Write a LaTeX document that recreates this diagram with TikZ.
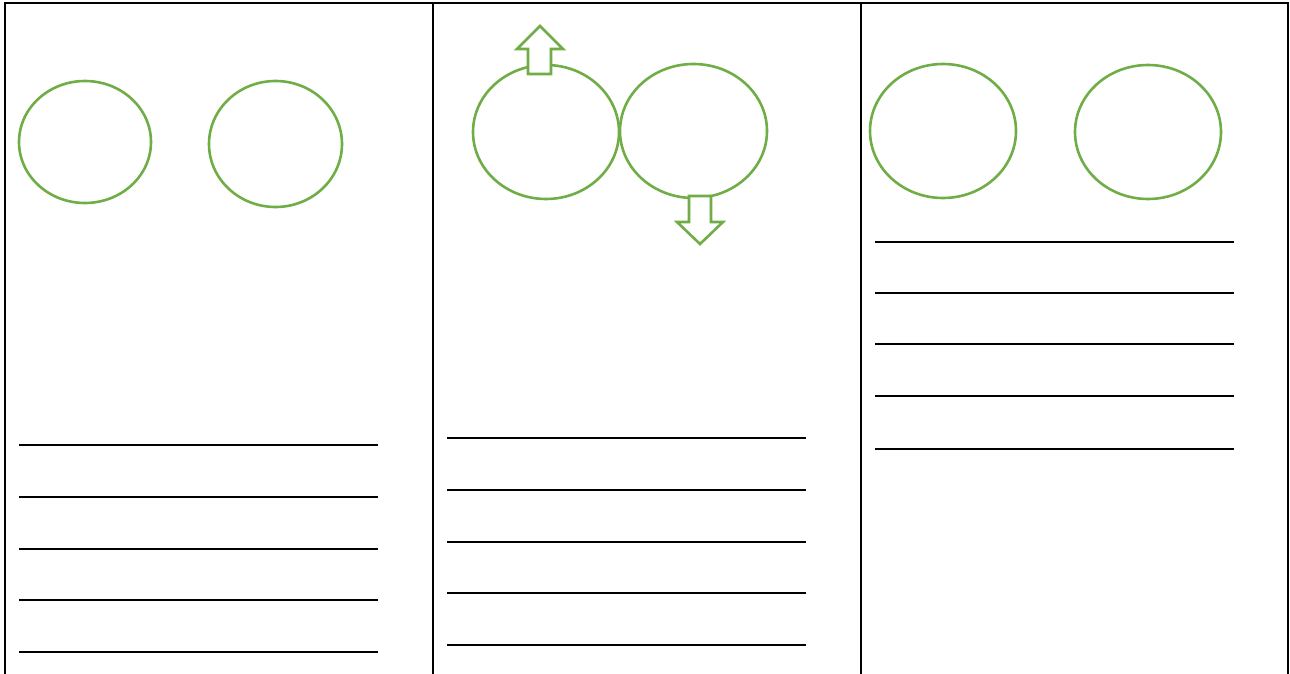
\documentclass[tikz,border=0pt]{standalone}
\usetikzlibrary{shapes.geometric}
\definecolor{leaf}{HTML}{70AD47}
\begin{document}
\begin{tikzpicture}[x=1pt,y=-1pt,
  frame/.style={draw=black,line width=2.6pt},
  bubble/.style={draw=leaf,line width=2.6pt,ellipse,inner sep=0pt},
  blockarrow/.style={draw=leaf,line width=2.6pt,fill=white,line join=miter},
  writeline/.style={draw=black,line width=2.6pt}]
\useasboundingbox (0,0) rectangle (1290,674);
% frame
\draw[frame] (5,680) -- (5,3) -- (1288,3) -- (1288,680);
\draw[frame] (433,3) -- (433,680);
\draw[frame] (861,3) -- (861,680);
% bubbles
\node[bubble,minimum width=132pt,minimum height=122pt] (c1) at (85,142) {};
\node[bubble,minimum width=133pt,minimum height=126pt] (c2) at (275.5,144) {};
\node[bubble,minimum width=146pt,minimum height=134pt] (c3) at (546,132) {};
\node[bubble,minimum width=147pt,minimum height=134pt] (c4) at (693.5,131) {};
\node[bubble,minimum width=146pt,minimum height=134pt] (c5) at (943,131) {};
\node[bubble,minimum width=146pt,minimum height=134pt] (c6) at (1148,132) {};
% arrows
\draw[blockarrow] (528,74) -- (528,49) -- (517,49) -- (540,26) -- (563,49) -- (551,49) -- (551,74) -- cycle;
\draw[blockarrow] (689,196) -- (689,222) -- (677,222) -- (700,244) -- (723,222) -- (711,222) -- (711,196) -- cycle;
% lines column 1
\foreach \y in {445,497,549,600,652} \draw[writeline] (19,\y) -- (378,\y);
% lines column 2
\foreach \y in {438,490,542,593,645} \draw[writeline] (447,\y) -- (806,\y);
% lines column 3
\foreach \y in {242,293,344,396,449} \draw[writeline] (875,\y) -- (1234,\y);
\end{tikzpicture}
\end{document}
